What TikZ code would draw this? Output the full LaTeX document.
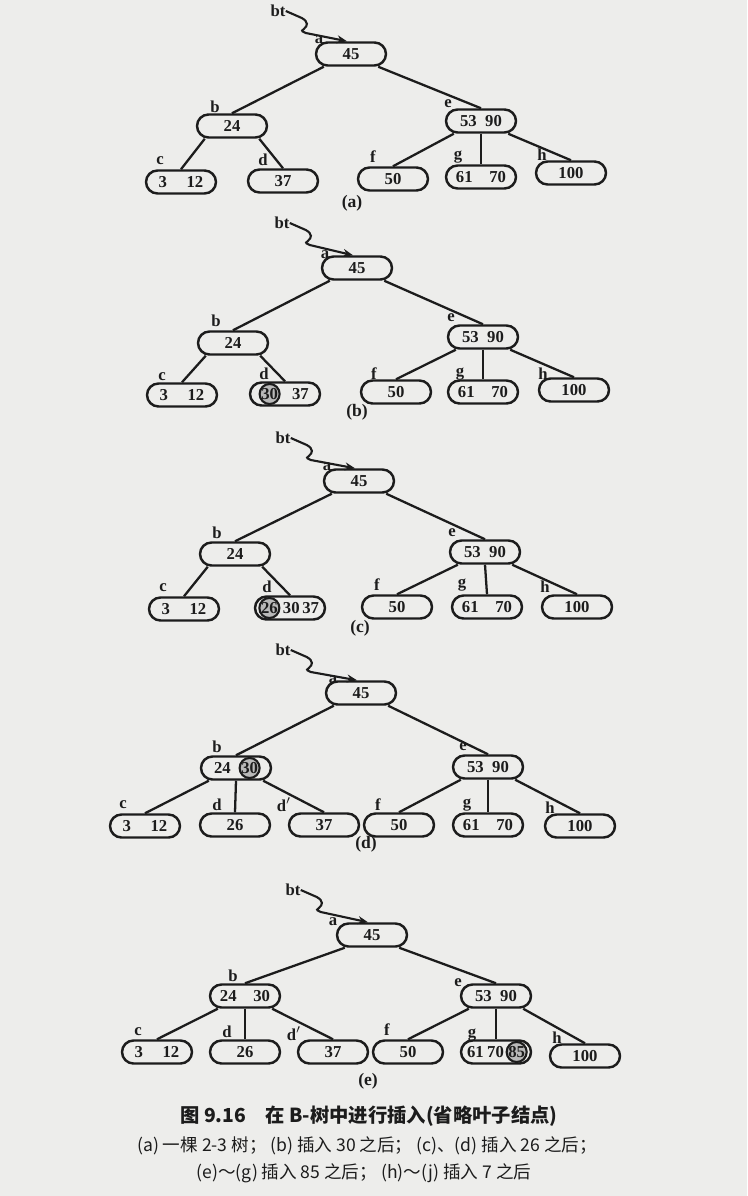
\documentclass[tikz,border=0pt]{standalone}
\usepackage{fontspec}
\setmainfont{Liberation Serif}
\newfontfamily\cjk{Noto Sans CJK SC}
\usepackage{tikz}
\usetikzlibrary{arrows.meta}
\usetikzlibrary{positioning}
\definecolor{paper}{RGB}{237,237,235}
\definecolor{ink}{RGB}{28,28,28}

\begin{document}
\begin{tikzpicture}[x=0.02cm,y=-0.02cm,
	bnode/.style={draw=ink,line width=1.4pt,rounded corners=0.23cm,minimum width=1.4cm,minimum height=0.46cm,inner sep=0pt,text=ink,font=\fontsize{9.5}{11}\selectfont\bfseries},
	newkey/.style={circle,draw=ink,fill=gray!55,line width=1.2pt,minimum size=0.4cm,inner sep=0pt,text=ink,font=\fontsize{9.5}{11}\selectfont\bfseries},
	nlabel/.style={inner sep=0pt,text=ink,font=\fontsize{9.5}{11}\selectfont\bfseries},
	panel/.style={inner sep=0pt,text=ink,font=\fontsize{10}{12}\selectfont\bfseries},
	link/.style={draw=ink,line width=1.3pt},
	ptr/.style={draw=ink,line width=1.2pt,-{Stealth[length=2mm,width=1.6mm]}}]
	\fill[paper] (0,0) rectangle (747,1196);
	\useasboundingbox (0,0) rectangle (747,1196);

	% (a)
	\node[nlabel] (Abt) at (278,11) {bt};
	\node[bnode] (Aa) at (351,54) {45};
	\node[bnode] (Ab) at (232,126) {24};
	\node[bnode] (Ae) at (481,121) {53\enspace 90};
	\node[bnode] (Ac) at (181,182) {3\quad\,12};
	\node[bnode] (Ad) at (283,181) {37};
	\node[bnode] (Af) at (393,179) {50};
	\node[bnode] (Ag) at (481,177) {61\quad 70};
	\node[bnode] (Ah) at (571,173) {100};
	\node[nlabel] (lAa) at (319,40) {a};
	\node[nlabel] (lAb) at (215,107) {b};
	\node[nlabel] (lAe) at (448,104) {e};
	\node[nlabel] (lAc) at (160,161) {c};
	\node[nlabel] (lAd) at (263,160) {d};
	\node[nlabel] (lAf) at (373,157) {f};
	\node[nlabel] (lAg) at (458,157) {g};
	\node[nlabel] (lAh) at (542,155) {h};
	\node[panel] (pA) at (352,203) {(a)};
	\draw[ptr] (Abt.east) -- ++(16,7) .. controls +(7,4) and +(4,-3) .. ++(2,11) .. controls +(-4,3) and +(-2,-2) .. ++(2,4) -- ([xshift=-0.08cm]Aa.north);
	\draw[link] ([xshift=0.18cm]Aa.south west) -- (Ab.north);
	\draw[link] ([xshift=-0.18cm]Aa.south east) -- (Ae.north);
	\draw[link] ([xshift=0.18cm]Ab.south west) -- (Ac.north);
	\draw[link] ([xshift=-0.18cm]Ab.south east) -- (Ad.north);
	\draw[link] ([xshift=0.18cm]Ae.south west) -- (Af.north);
	\draw[link] (Ae.south) -- (Ag.north);
	\draw[link] ([xshift=-0.18cm]Ae.south east) -- (Ah.north);

	% (b)
	\node[nlabel] (Bbt) at (282,223) {bt};
	\node[bnode] (Ba) at (357,268) {45};
	\node[bnode] (Bb) at (233,343) {24};
	\node[bnode] (Be) at (483,337) {53\enspace 90};
	\node[bnode] (Bc) at (182,395) {3\quad\,12};
	\node[bnode] (Bd) at (285,394) {\phantom{30}\hspace{8pt}37};
	\node[newkey] (Bx) at ([xshift=-8.75pt]Bd.center) {30};
	\node[bnode] (Bf) at (396,392) {50};
	\node[bnode] (Bg) at (483,392) {61\quad 70};
	\node[bnode] (Bh) at (574,390) {100};
	\node[nlabel] (lBa) at (325,255) {a};
	\node[nlabel] (lBb) at (216,321) {b};
	\node[nlabel] (lBe) at (451,318) {e};
	\node[nlabel] (lBc) at (162,377) {c};
	\node[nlabel] (lBd) at (264,374) {d};
	\node[nlabel] (lBf) at (374,374) {f};
	\node[nlabel] (lBg) at (460,374) {g};
	\node[nlabel] (lBh) at (543,374) {h};
	\node[panel] (pB) at (357,412) {(b)};
	\draw[ptr] (Bbt.east) -- ++(16,7) .. controls +(7,4) and +(4,-3) .. ++(2,11) .. controls +(-4,3) and +(-2,-2) .. ++(2,4) -- ([xshift=-0.08cm]Ba.north);
	\draw[link] ([xshift=0.18cm]Ba.south west) -- (Bb.north);
	\draw[link] ([xshift=-0.18cm]Ba.south east) -- (Be.north);
	\draw[link] ([xshift=0.18cm]Bb.south west) -- (Bc.north);
	\draw[link] ([xshift=-0.18cm]Bb.south east) -- (Bd.north);
	\draw[link] ([xshift=0.18cm]Be.south west) -- (Bf.north);
	\draw[link] (Be.south) -- (Bg.north);
	\draw[link] ([xshift=-0.18cm]Be.south east) -- (Bh.north);

	% (c)
	\node[nlabel] (Cbt) at (283,438) {bt};
	\node[bnode] (Ca) at (359,481) {45};
	\node[bnode] (Cb) at (235,554) {24};
	\node[bnode] (Ce) at (485,552) {53\enspace 90};
	\node[bnode] (Cc) at (184,609) {3\quad\,12};
	\node[bnode] (Cd) at (290,608) {\phantom{26}\hspace{3pt}30\hspace{1.5pt}37};
	\node[newkey] (Cx) at ([xshift=-11.75pt]Cd.center) {26};
	\node[bnode] (Cf) at (397,607) {50};
	\node[bnode] (Cg) at (487,607) {61\quad 70};
	\node[bnode] (Ch) at (577,607) {100};
	\node[nlabel] (lCa) at (327,467) {a};
	\node[nlabel] (lCb) at (217,533) {b};
	\node[nlabel] (lCe) at (452,533) {e};
	\node[nlabel] (lCc) at (163,588) {c};
	\node[nlabel] (lCd) at (267,587) {d};
	\node[nlabel] (lCf) at (377,585) {f};
	\node[nlabel] (lCg) at (462,585) {g};
	\node[nlabel] (lCh) at (545,587) {h};
	\node[panel] (pC) at (360,628) {(c)};
	\draw[ptr] (Cbt.east) -- ++(16,7) .. controls +(7,4) and +(4,-3) .. ++(2,11) .. controls +(-4,3) and +(-2,-2) .. ++(2,4) -- ([xshift=-0.08cm]Ca.north);
	\draw[link] ([xshift=0.18cm]Ca.south west) -- (Cb.north);
	\draw[link] ([xshift=-0.18cm]Ca.south east) -- (Ce.north);
	\draw[link] ([xshift=0.18cm]Cb.south west) -- (Cc.north);
	\draw[link] ([xshift=-0.18cm]Cb.south east) -- (Cd.north);
	\draw[link] ([xshift=0.18cm]Ce.south west) -- (Cf.north);
	\draw[link] (Ce.south) -- (Cg.north);
	\draw[link] ([xshift=-0.18cm]Ce.south east) -- (Ch.north);

	% (d)
	\node[nlabel] (Dbt) at (283,650) {bt};
	\node[bnode] (Da) at (361,693) {45};
	\node[bnode] (Db) at (236,768) {24\hspace{6pt}\phantom{30}};
	\node[newkey] (Dx) at ([xshift=7.75pt]Db.center) {30};
	\node[bnode] (De) at (488,767) {53\enspace 90};
	\node[bnode] (Dc) at (145,826) {3\quad\,12};
	\node[bnode] (Dd) at (235,825) {26};
	\node[bnode] (Dd2) at (324,825) {37};
	\node[bnode] (Df) at (399,825) {50};
	\node[bnode] (Dg) at (488,825) {61\quad 70};
	\node[bnode] (Dh) at (580,826) {100};
	\node[nlabel] (lDa) at (333,680) {a};
	\node[nlabel] (lDb) at (217,747) {b};
	\node[nlabel] (lDe) at (463,747) {e};
	\node[nlabel] (lDc) at (123,805) {c};
	\node[nlabel] (lDd) at (217,805) {d};
	\node[nlabel] (lDd2) at (284,805) {d$'$};
	\node[nlabel] (lDf) at (378,805) {f};
	\node[nlabel] (lDg) at (467,805) {g};
	\node[nlabel] (lDh) at (550,808) {h};
	\node[panel] (pD) at (366,844) {(d)};
	\draw[ptr] (Dbt.east) -- ++(16,7) .. controls +(7,4) and +(4,-3) .. ++(2,11) .. controls +(-4,3) and +(-2,-2) .. ++(2,4) -- ([xshift=-0.08cm]Da.north);
	\draw[link] ([xshift=0.18cm]Da.south west) -- (Db.north);
	\draw[link] ([xshift=-0.18cm]Da.south east) -- (De.north);
	\draw[link] ([xshift=0.18cm]Db.south west) -- (Dc.north);
	\draw[link] (Db.south) -- (Dd.north);
	\draw[link] ([xshift=-0.18cm]Db.south east) -- (Dd2.north);
	\draw[link] ([xshift=0.18cm]De.south west) -- (Df.north);
	\draw[link] (De.south) -- (Dg.north);
	\draw[link] ([xshift=-0.18cm]De.south east) -- (Dh.north);

	% (e)
	\node[nlabel] (Ebt) at (293,890) {bt};
	\node[bnode] (Ea) at (372,935) {45};
	\node[bnode] (Eb) at (245,996) {24\quad 30};
	\node[bnode] (Ee) at (496,996) {53\enspace 90};
	\node[bnode] (Ec) at (157,1052) {3\quad\,12};
	\node[bnode] (Ed) at (245,1052) {26};
	\node[bnode] (Ed2) at (333,1052) {37};
	\node[bnode] (Ef) at (408,1052) {50};
	\node[bnode] (Eg) at (496,1052) {61\hspace{2pt}70\hspace{2.5pt}\phantom{85}};
	\node[newkey] (Ex) at ([xshift=11.75pt]Eg.center) {85};
	\node[bnode] (Eh) at (585,1056) {100};
	\node[nlabel] (lEa) at (333,922) {a};
	\node[nlabel] (lEb) at (233,976) {b};
	\node[nlabel] (lEe) at (458,983) {e};
	\node[nlabel] (lEc) at (138,1032) {c};
	\node[nlabel] (lEd) at (227,1032) {d};
	\node[nlabel] (lEd2) at (294,1034) {d$'$};
	\node[nlabel] (lEf) at (387,1030) {f};
	\node[nlabel] (lEg) at (472,1035) {g};
	\node[nlabel] (lEh) at (557,1038) {h};
	\node[panel] (pE) at (368,1081) {(e)};
	\draw[ptr] (Ebt.east) -- ++(16,7) .. controls +(7,4) and +(4,-3) .. ++(2,11) .. controls +(-4,3) and +(-2,-2) .. ++(2,4) -- ([xshift=-0.08cm]Ea.north);
	\draw[link] ([xshift=0.18cm]Ea.south west) -- (Eb.north);
	\draw[link] ([xshift=-0.18cm]Ea.south east) -- (Ee.north);
	\draw[link] ([xshift=0.18cm]Eb.south west) -- (Ec.north);
	\draw[link] (Eb.south) -- (Ed.north);
	\draw[link] ([xshift=-0.18cm]Eb.south east) -- (Ed2.north);
	\draw[link] ([xshift=0.18cm]Ee.south west) -- (Ef.north);
	\draw[link] (Ee.south) -- (Eg.north);
	\draw[link] ([xshift=-0.18cm]Ee.south east) -- (Eh.north);

	% caption
	\node[text=ink,font=\cjk\fontsize{11}{13}\selectfont\bfseries] (cap1) at (369,1116) {图 9.16\quad 在 B-树中进行插入(省略叶子结点)};
	\node[text=ink,font=\cjk\fontsize{10}{12}\selectfont] (cap2) at (367,1146) {(a) 一棵 2-3 树；\ (b) 插入 30 之后；\ (c)、(d) 插入 26 之后；};
	\node[text=ink,font=\cjk\fontsize{10}{12}\selectfont] (cap3) at (364,1173) {(e)～(g) 插入 85 之后；\ (h)～(j) 插入 7 之后};
\end{tikzpicture}
\end{document}
